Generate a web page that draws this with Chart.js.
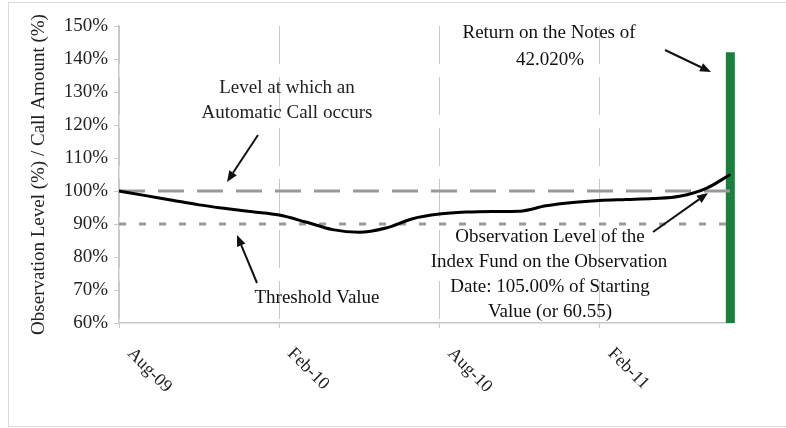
<!DOCTYPE html>
<html>
<head>
<meta charset="utf-8">
<script src="https://cdn.jsdelivr.net/npm/chart.js@4/dist/chart.umd.min.js"></script>
<style>
  html, body { margin: 0; padding: 0; background: #fff; }
  #wrap { width: 786px; height: 428px; position: relative; }
</style>
</head>
<body>
<div id="wrap"><canvas id="c" width="786" height="428"></canvas></div>
<script>
// ---- data ----
const tickMonths = [0, 6, 12, 18];
const tickLabels = ['Aug-09', 'Feb-10', 'Aug-10', 'Feb-11'];
const obsMonths = [0, 1, 2, 3, 4, 5, 6, 7, 8, 9, 10, 11, 12, 13, 14, 15, 16, 17, 18, 19, 20, 21, 22, 22.9];
const obsLevels = [100, 98.6, 97.2, 95.8, 94.7, 93.7, 92.7, 90.6, 88.3, 87.5, 88.8, 91.6, 93.0, 93.6, 93.8, 93.9, 95.5, 96.5, 97.1, 97.4, 97.7, 98.4, 100.8, 105.0];
const autoCallLevel = 100;
const thresholdLevel = 90;
const finalMonth = 22.9;
const returnOnNotes = 42.02;
const yMin = 60, yMax = 150, yStep = 10;
const xMin = 0, xMax = 23;

const FONT = '"Liberation Serif", "Times New Roman", serif';

const lineData = obsMonths.map((m, i) => ({ x: m, y: obsLevels[i] }));
const autoCallData = [{ x: xMin, y: autoCallLevel }, { x: xMax, y: autoCallLevel }];
const thresholdData = [{ x: xMin, y: thresholdLevel }, { x: xMax, y: thresholdLevel }];
const barData = [{ x: finalMonth, y: yMin }, { x: finalMonth, y: 100 + returnOnNotes }];

function arrow(ctx, x1, y1, x2, y2) {
  const ang = Math.atan2(y2 - y1, x2 - x1);
  const hl = 11, hw = 4.5;
  const bx = x2 - hl * Math.cos(ang), by = y2 - hl * Math.sin(ang);
  ctx.beginPath();
  ctx.moveTo(x1, y1);
  ctx.lineTo(bx, by);
  ctx.lineWidth = 2;
  ctx.strokeStyle = '#111';
  ctx.stroke();
  ctx.beginPath();
  ctx.moveTo(x2, y2);
  ctx.lineTo(bx + hw * Math.sin(ang), by - hw * Math.cos(ang));
  ctx.lineTo(bx - hw * Math.sin(ang), by + hw * Math.cos(ang));
  ctx.closePath();
  ctx.fillStyle = '#111';
  ctx.fill();
}

const decor = {
  id: 'decor',
  beforeDraw(chart) {
    const ctx = chart.ctx;
    ctx.save();
    ctx.fillStyle = '#fff';
    ctx.fillRect(0, 0, chart.width, chart.height);
    ctx.strokeStyle = '#dcdcdc';
    ctx.lineWidth = 1;
    ctx.strokeRect(8.5, 2.5, 800, 424);
    ctx.restore();
  },
  afterDatasetsDraw(chart) {
    const ctx = chart.ctx;
    const xs = chart.scales.x;
    ctx.save();
    // rotated x tick labels
    ctx.font = '18px ' + FONT;
    ctx.fillStyle = '#222';
    ctx.textAlign = 'left';
    ctx.textBaseline = 'middle';
    tickMonths.forEach((m, i) => {
      const px = xs.getPixelForValue(m);
      ctx.save();
      ctx.translate(px + 11, 351);
      ctx.rotate(Math.PI / 4);
      ctx.fillText(tickLabels[i], 0, 0);
      ctx.restore();
    });
    // annotations
    ctx.textAlign = 'center';
    ctx.textBaseline = 'middle';
    ctx.fillStyle = '#222';
    ctx.font = '19px ' + FONT;
    ctx.fillText('Level at which an', 287, 88);
    ctx.fillText('Automatic Call occurs', 287, 113);
    arrow(ctx, 258, 135, 227, 182);

    ctx.fillText('Return on the Notes of', 549, 33);
    ctx.fillText('42.020%', 550, 60);
    arrow(ctx, 665, 50, 711, 72);

    ctx.fillText('Threshold Value', 317, 298);
    arrow(ctx, 257, 283, 237, 235);

    ctx.fillText('Observation Level of the', 550, 237);
    ctx.fillText('Index Fund on the Observation', 549, 262);
    ctx.fillText('Date: 105.00% of Starting', 550, 287);
    ctx.fillText('Value (or 60.55)', 550, 312);
    arrow(ctx, 653, 232, 708, 193);
    ctx.restore();
  }
};

new Chart(document.getElementById('c'), {
  type: 'line',
  data: {
    datasets: [
      { data: lineData, borderColor: '#000', borderWidth: 3, pointRadius: 0, tension: 0.4, cubicInterpolationMode: 'monotone', fill: false },
      { data: autoCallData, borderColor: '#999', borderWidth: 3, borderDash: [26, 13], pointRadius: 0, fill: false },
      { data: thresholdData, borderColor: '#9a9a9a', borderWidth: 3, borderDash: [7, 13], pointRadius: 0, fill: false },
      { data: barData, borderColor: '#1b7f3e', borderWidth: 9, borderCapStyle: 'butt', pointRadius: 0, fill: false, clip: false }
    ]
  },
  options: {
    responsive: false,
    animation: false,
    events: [],
    layout: { padding: { top: 26, right: 53, bottom: 0, left: 0 } },
    plugins: { legend: { display: false }, tooltip: { enabled: false }, title: { display: false } },
    scales: {
      x: {
        type: 'linear',
        min: xMin, max: xMax,
        afterBuildTicks: s => { s.ticks = tickMonths.map(v => ({ value: v })); },
        afterFit: s => { s.height = 105; },
        ticks: { display: false },
        grid: { display: true, drawOnChartArea: true, drawTicks: true, tickLength: 5, color: '#c8c8c8', lineWidth: 1 },
        border: { display: true, color: '#c8c8c8', width: 1.5, dash: [38, 13] }
      },
      y: {
        min: yMin, max: yMax,
        afterFit: s => { s.width = 119; },
        ticks: { stepSize: yStep, color: '#222', font: { family: FONT, size: 19 }, padding: 6, callback: v => v + '%' },
        grid: { display: true, drawOnChartArea: false, drawTicks: true, tickLength: 5, color: '#c8c8c8' },
        border: { display: true, color: '#c8c8c8', width: 1.5 },
        title: { display: true, text: 'Observation Level (%) / Call Amount (%)', color: '#222', font: { family: FONT, size: 19 }, padding: { top: 28, bottom: 0 } }
      }
    }
  },
  plugins: [decor]
});
</script>
</body>
</html>
